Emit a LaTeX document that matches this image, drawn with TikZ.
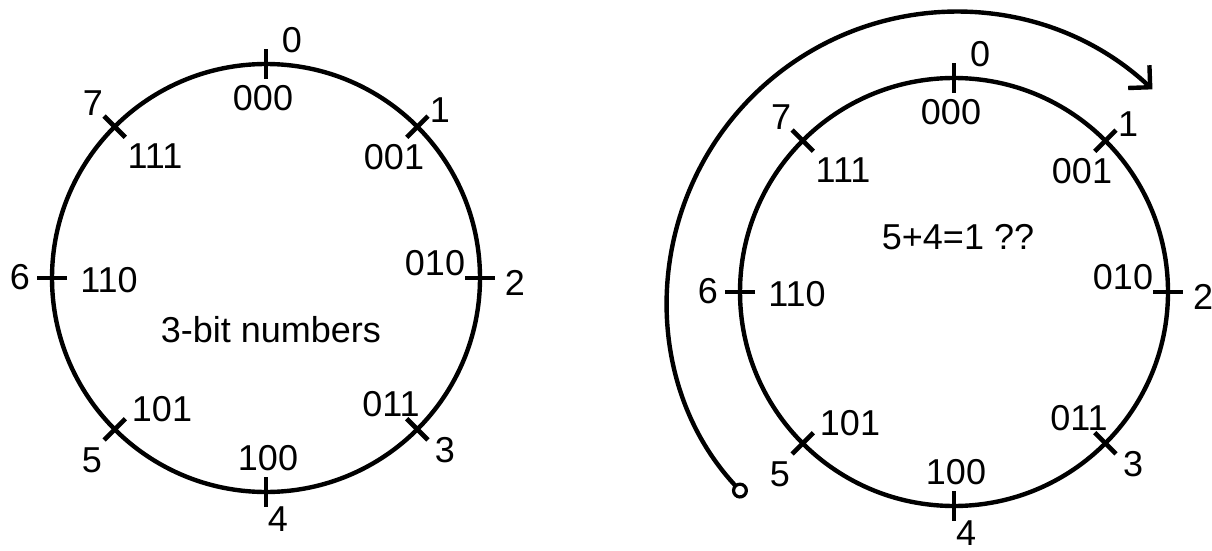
\documentclass[tikz,border=0pt]{standalone}
\usepackage{fontspec}
\setmainfont{Liberation Sans}
\usetikzlibrary{arrows.meta,calc}
\tikzset{
  ring/.style={circle, draw, line width=4.4pt, minimum size=428pt, inner sep=0pt, outer sep=0pt},
  tickmark/.style={line width=4.6pt},
  lbl/.style={font=\fontsize{36}{40}\selectfont, inner sep=0pt},
  sweep/.style={line width=4.4pt, {Circle[open,length=16pt,line width=3.2pt]}-{Straight Barb[angle=90:22pt]}}
}
\newcommand\clockface[6]{%
  \node[ring] (#1) at (#2,#3) {};
  \foreach \a in {0,45,...,315}
    \draw[tickmark] ([shift={(\a:-15pt)}]#1.\a) -- ([shift={(\a:15pt)}]#1.\a);
  \begin{scope}[shift={(#2,#3)}]
    \node[lbl] (#1-d0) at (26,238) {0};
    \node[lbl] (#1-b0) at (-3,180) {000};
    \node[lbl] (#1-d7) at (-173,175) {7};
    \node[lbl] (#1-b7) at (-111,122) {111};
    \node[lbl] (#1-d1) at (174,168) {1};
    \node[lbl] (#1-b1) at (128,121) {001};
    \node[lbl] (#1-d6) at (-246,1) {6};
    \node[lbl] (#1-b6) at (-157,-2) {110};
    \node[lbl] (#1-b2) at (169,15) {010};
    \node[lbl] (#1-d2) at (249,-5) {2};
    \node[lbl] (#1-b5) at (-104,-131) {101};
    \node[lbl] (#1-d5) at (-174,-182) {5};
    \node[lbl] (#1-b3) at (125,-126) {011};
    \node[lbl] (#1-d3) at (179,-172) {3};
    \node[lbl] (#1-b4) at (2,-180) {100};
    \node[lbl] (#1-d4) at (12,-241) {4};
    \node[lbl] (#1-txt) at (#5,#6) {#4};
  \end{scope}
}
\begin{document}
\begin{tikzpicture}[x=1pt,y=1pt]
  \useasboundingbox (0,0) rectangle (1212,550);
  \clockface{L}{266}{272}{3-bit numbers}{5}{-52}
  \clockface{R}{954}{258}{5+4=1 ??}{4}{55}
  \coordinate (sweepS) at (745.4,53.6);
  \draw[sweep] (sweepS) arc[start angle=223, end angle=47, radius=288pt];
\end{tikzpicture}
\end{document}
